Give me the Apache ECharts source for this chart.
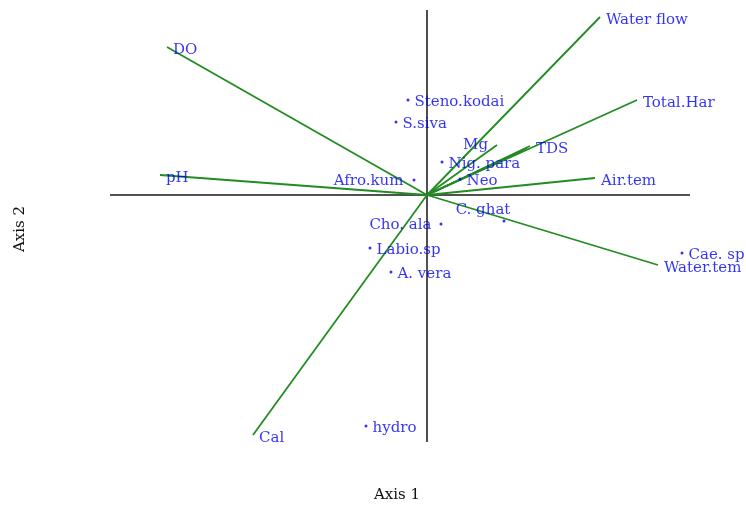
<!DOCTYPE html>
<html><head><meta charset="utf-8">
<script src="https://cdn.jsdelivr.net/npm/echarts@6/dist/echarts.min.js"></script>
<style>html,body{margin:0;padding:0;background:#fff}#c{width:746px;height:507px}</style>
</head><body><div id="c"></div>
<script>
// Environmental variable arrows (CCA biplot scores)
const envNames = ['DO','pH','Water flow','Total.Har','TDS','','','Mg','Air.tem','Water.tem','Cal'];
const envX = [-2.60,-2.67,1.73,2.10,1.03,1.00,0.95,0.70,1.68,2.31,-1.74];
const envY = [1.48,0.20,1.78,0.95,0.49,0.47,0.44,0.50,0.17,-0.70,-2.40];
// Species scores
const spNames = ['Steno.kodai','S.siva','Afro.kum','Nig. para','Neo','C. ghat','Cho. ala','Labio.sp','A. vera','Cae. sp','hydro'];
const spX = [-0.19,-0.31,-0.13,0.15,0.33,0.77,0.14,-0.57,-0.36,2.55,-0.61];
const spY = [0.95,0.73,0.15,0.33,0.16,-0.26,-0.29,-0.53,-0.77,-0.58,-2.31];
// Axis frame extents
const axisXRange = [-3.17, 2.63];
const axisYRange = [-2.47, 1.85];

const blue = '#0000f0';
const green = '#228b22';
const font = 'DejaVu Serif';

const envLabelPos = {'Mg': {position:'left', distance: 9, offset:[0,0]}};
const spLabelPos = {
  'Afro.kum': {position:'left', distance: 9, offset:[0,1]},
  'Cho. ala': {position:'left', distance: 8, offset:[0,1]},
  'C. ghat': {position:'top', distance: 2, offset:[-21,0]}
};

const series = [];
// axis cross
series.push({type:'line', data:[[axisXRange[0],0],[axisXRange[1],0]], symbol:'none', silent:true,
  lineStyle:{color:'#505050', width:2}, z:1});
series.push({type:'line', data:[[0,axisYRange[0]],[0,axisYRange[1]]], symbol:'none', silent:true,
  lineStyle:{color:'#505050', width:2}, z:1});
// arrows
envNames.forEach((n,i)=>{
  series.push({type:'line', data:[[0,0],[envX[i],envY[i]]], symbol:'none', silent:true,
    lineStyle:{color:green, width:1.8}, z:2});
});
// env labels
series.push({type:'scatter', symbolSize:0, z:3,
  data: envNames.map((n,i)=>{
    const p = envLabelPos[n] || {position:'right', distance:6, offset:[0,3]};
    return {value:[envX[i],envY[i]], name:n, label:{show: n!=='', position:p.position, distance:p.distance, offset:p.offset}};
  }),
  label:{formatter:'{b}', color:blue, fontFamily:font, fontSize:15}
});
// species
series.push({type:'scatter', symbol:'circle', symbolSize:3, itemStyle:{color:blue}, z:4,
  data: spNames.map((n,i)=>{
    const p = spLabelPos[n] || {position:'right', distance:5, offset:[0,2]};
    return {value:[spX[i],spY[i]], name:n, label:{show:true, position:p.position, distance:p.distance, offset:p.offset}};
  }),
  label:{formatter:'{b}', color:blue, fontFamily:font, fontSize:15}
});

const chart = echarts.init(document.getElementById('c'), null, {renderer:'canvas'});
chart.setOption({
  animation:false,
  grid:{left:0,right:0,top:0,bottom:0},
  xAxis:{type:'value', min:-4.27, max:3.19, show:false},
  yAxis:{type:'value', min:-3.12, max:1.95, show:false},
  graphic:[
    {type:'text', left:374, top:488, style:{text:'Axis 1', fill:'#111', font:'15px "DejaVu Serif"'}},
    {type:'text', x:13, y:252, rotation:Math.PI/2, originX:0, originY:0, style:{text:'Axis 2', fill:'#111', font:'15px "DejaVu Serif"'}}
  ],
  series: series
});
</script></body></html>
